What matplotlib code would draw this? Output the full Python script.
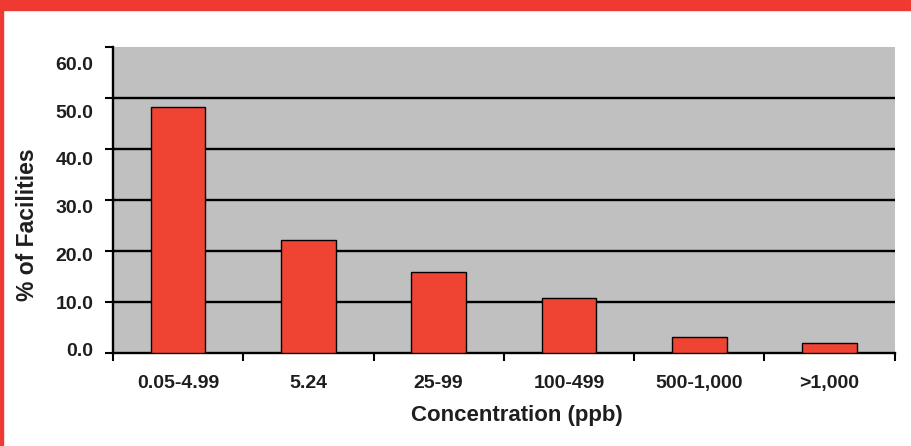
import matplotlib.pyplot as plt
import matplotlib.patches as mpatches
import numpy as np

# ---------- Data ----------
categories = ["0.05-4.99", "5.24", "25-99", "100-499", "500-1,000", ">1,000"]
pct_facilities = [48.2, 22.2, 15.9, 10.8, 3.1, 2.0]
y_ticks = [0, 10, 20, 30, 40, 50, 60]

RED = "#EF4433"
TXT = "#1E1E1E"
plt.rcParams["font.family"] = ["Liberation Sans", "DejaVu Sans"]
plt.rcParams["font.weight"] = "bold"

fig = plt.figure(figsize=(9.11, 4.46), dpi=100)
ax = fig.add_axes([0.124, 0.2085, 0.858, 0.686])

# ---------- red frame (top band + left strip) ----------
fig.patches.append(mpatches.Rectangle((0, 1 - 10 / 446), 1, 10 / 446,
                                      transform=fig.transFigure, color="#EE3A33", zorder=0))
fig.patches.append(mpatches.Rectangle((0, 0), 3 / 911, 1,
                                      transform=fig.transFigure, color="#EE3A33", zorder=0))

# ---------- bars ----------
x = np.arange(len(categories))
ax.set_facecolor("#C0C0C0")
ax.bar(x, pct_facilities, width=0.42, color=RED, edgecolor="black", linewidth=1.0, zorder=3)

ax.set_xlim(-0.5, len(categories) - 0.5)
ax.set_ylim(0, 60)
ax.set_yticks(y_ticks)
ax.set_yticklabels([])
for v in y_ticks[1:-1]:
    ax.axhline(v, color="black", linewidth=1.7, zorder=2)

# y labels sit a little below their ticks in the original (scanned) chart
for v in y_ticks:
    ax.text(-0.025, v * 0.937 + 0.2, f"{v:.1f}", transform=ax.get_yaxis_transform(),
            ha="right", va="center", fontsize=14, fontweight="bold", color=TXT)

# category labels centred, ticks on category boundaries
ax.set_xticks(np.arange(-0.5, len(categories), 1.0))
ax.set_xticklabels([])
ax.set_xticks(x, minor=True)
ax.set_xticklabels(categories, minor=True, fontsize=14, fontweight="bold", color=TXT)
ax.tick_params(axis="x", which="minor", length=0, pad=16)
ax.tick_params(axis="x", which="major", length=6, width=1.5, direction="out")
ax.tick_params(axis="y", length=6, width=1.5, direction="out")

for side in ["top", "right"]:
    ax.spines[side].set_visible(False)
ax.spines["left"].set_linewidth(1.7)
ax.spines["bottom"].set_linewidth(1.7)

ax.set_xlabel("Concentration (ppb)", fontsize=16, fontweight="bold", color=TXT)
ax.xaxis.set_label_coords(0.517, -0.17)
ax.set_ylabel("% of Facilities", fontsize=16.5, fontweight="bold", color=TXT)
ax.yaxis.set_label_coords(-0.094, 0.42)

fig.savefig("out.png", dpi=100)
